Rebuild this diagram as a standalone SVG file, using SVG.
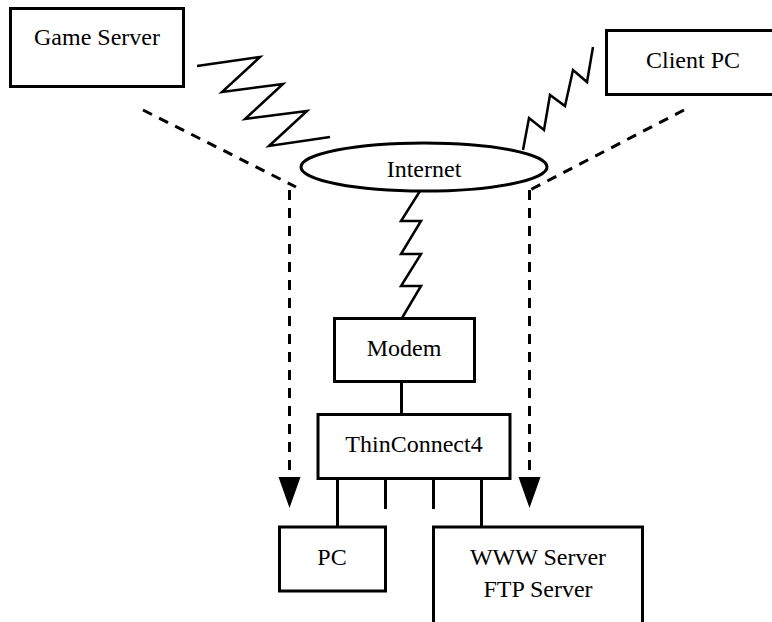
<svg xmlns="http://www.w3.org/2000/svg" width="772" height="622" viewBox="0 0 772 622">
<defs>
<style>
.box{fill:#fff;stroke:#000;stroke-width:3}
.lbl{font-family:"Liberation Serif","Times New Roman",serif;font-size:24px;fill:#000;text-anchor:middle}
.zz{fill:none;stroke:#000;stroke-width:2.5;stroke-linejoin:miter}
.dash{fill:none;stroke:#000;stroke-width:3;stroke-dasharray:10 8}
.solid{fill:none;stroke:#000;stroke-width:3}
</style>
<marker id="arrow" viewBox="0 0 22 31" refX="11" refY="31" markerUnits="userSpaceOnUse" markerWidth="22" markerHeight="31" orient="auto-start-reverse">
<path d="M0,0 L22,0 L11,31 Z" fill="#000"/>
</marker>
</defs>
<rect width="772" height="622" fill="#fff"/>
<g id="connectors">
<polyline class="zz" points="197,66 260,57 222,92 283,84 245,119 307,111 269,146 330,137"/>
<polyline class="zz" points="523,150 529,118 544,130 550,95 565,106 573,70 587,82 593,47"/>
<polyline class="zz" points="420,191 401,221 421,221 401,254 421,254 401,286 421,286 402,318"/>
<line class="dash" x1="143" y1="110" x2="296" y2="187"/>
<line class="dash" x1="684" y1="110" x2="530" y2="190"/>
<line class="dash" x1="289.5" y1="190" x2="289.5" y2="478"/>
<path d="M278.5,477 L300.5,477 L289.5,508 Z" fill="#000"/>
<line class="dash" x1="529.5" y1="190" x2="529.5" y2="478"/>
<path d="M518.5,477 L540.5,477 L529.5,508 Z" fill="#000"/>
<line class="solid" x1="401.5" y1="382" x2="401.5" y2="414"/>
<line class="solid" x1="337.5" y1="479" x2="337.5" y2="527"/>
<line class="solid" x1="385.5" y1="479" x2="385.5" y2="509"/>
<line class="solid" x1="433.5" y1="479" x2="433.5" y2="509"/>
<line class="solid" x1="481.5" y1="479" x2="481.5" y2="527"/>
</g>
<g id="game-server">
<rect class="box" x="10.5" y="8.5" width="173" height="78"/>
<text class="lbl" x="97" y="45">Game Server</text>
</g>
<g id="client-pc">
<rect class="box" x="606.5" y="30.5" width="180" height="64"/>
<text class="lbl" x="693" y="68">Client PC</text>
</g>
<g id="internet">
<ellipse class="box" cx="424" cy="167" rx="123" ry="24"/>
<text class="lbl" x="424" y="177">Internet</text>
</g>
<g id="modem">
<rect class="box" x="334.5" y="318.5" width="140" height="63"/>
<text class="lbl" x="404" y="356">Modem</text>
</g>
<g id="thinconnect4">
<rect class="box" x="318" y="414.5" width="192" height="64"/>
<text class="lbl" x="414" y="452">ThinConnect4</text>
</g>
<g id="pc">
<rect class="box" x="279.5" y="527" width="106" height="64"/>
<text class="lbl" x="332" y="565">PC</text>
</g>
<g id="www-ftp-server">
<rect class="box" x="433.5" y="527" width="209" height="100"/>
<text class="lbl" x="538" y="565">WWW Server</text>
<text class="lbl" x="538" y="597">FTP Server</text>
</g>
</svg>
